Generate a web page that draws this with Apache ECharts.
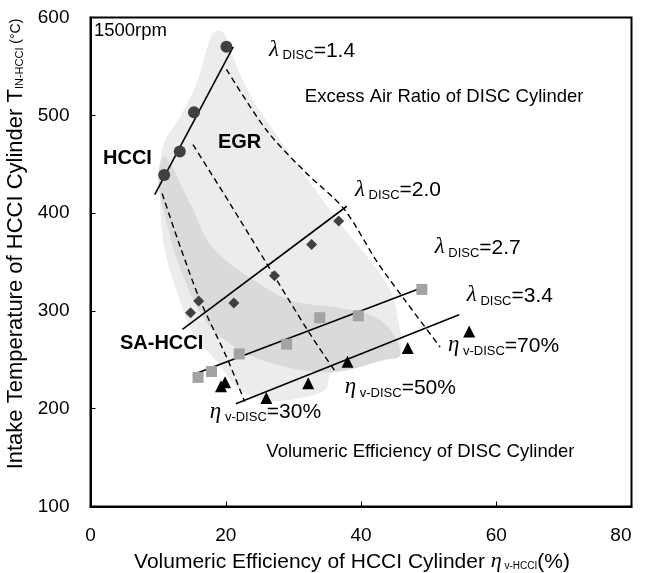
<!DOCTYPE html>
<html><head><meta charset="utf-8">
<script src="https://cdn.jsdelivr.net/npm/echarts@6/dist/echarts.min.js"></script>
<style>html,body{margin:0;padding:0;background:#fff}#c{width:646px;height:573px}</style>
</head><body><div id="c"></div>
<script>
// ---- axis ticks ----
const xTicks = [0, 20, 40, 60, 80];
const yTicks = [100, 200, 300, 400, 500, 600];

// ---- measured points (x: eta_v-HCCI %, y: T_IN-HCCI degC) ----
const hcciCircles = [[10.9, 439], [13.2, 463], [15.3, 503], [20.1, 570]];
const lambda20Diamonds = [[14.8, 298], [16.0, 310], [21.2, 308], [27.2, 336], [32.7, 368], [36.7, 392]];
const lambda27Squares = [[15.9, 232], [17.9, 238], [22.0, 256], [29.0, 266], [33.9, 293], [39.6, 295], [49.0, 322]];
const lambda34Triangles = [[19.3, 223], [19.9, 227], [26.0, 211], [32.2, 226], [38.0, 248], [46.9, 262], [56.0, 279]];

// ---- fitted iso-lambda lines ----
const fit14 = [[9.5, 419], [21.1, 570]];
const fit20 = [[13.6, 281], [37.9, 407]];
const fit27 = [[15.6, 236], [48.5, 322.5]];
const fit34 = [[21.5, 205], [54.5, 296]];

// ---- iso eta_v-DISC dashed curves ----
const eta30 = [[10.6, 420], [13.3, 365], [16.2, 311], [20.3, 250], [22.8, 207]];
const eta50 = [[15.15, 470], [20.6, 410], [26.0, 349], [32.4, 277], [36.4, 236]];
const eta70 = [[20.1, 547], [26.0, 485], [31.6, 443], [37.5, 404], [42.4, 350], [46.6, 310], [51.7, 263]];

// ---- shaded operating regions ----
const egrRegion = [[18.1, 584], [19.6, 585], [21.7, 549], [24.0, 516], [28.0, 475], [32.9, 427], [37.3, 386], [41.3, 352],
  [44.3, 321], [45.5, 291], [45.8, 255], [43.5, 250], [39.8, 248], [36.9, 245], [35.4, 235], [34.7, 219], [31.0, 211],
  [26.1, 208], [22.1, 219], [18.7, 248], [15.2, 277], [13.2, 311], [11.0, 362], [10.3, 413], [10.7, 468], [13.2, 498], [15.7, 533]];
const saRegion = [[10.7, 457], [12.0, 449], [13.7, 424], [15.2, 403], [17.2, 373], [19.6, 354], [24.0, 332], [29.5, 311],
  [36.9, 303], [41.3, 296], [44.3, 281], [45.8, 255], [43.5, 250], [36.9, 238], [32.9, 238], [27.0, 246], [22.1, 260],
  [17.2, 288], [13.2, 345], [11.0, 398], [10.0, 434]];

// ---- annotation texts and their anchors (data coords) ----
const annotTexts = ['1500rpm', 'lam14', 'Excess Air Ratio of DISC Cylinder', 'HCCI', 'EGR', 'lam20', 'lam27', 'lam34',
  'eta70', 'eta50', 'eta30', 'SA-HCCI', 'Volumeric Efficiency of DISC Cylinder'];
const annotAnchors = [[0.5, 586], [26.4, 567], [31.7, 519], [1.85, 456], [18.85, 472], [39.1, 424], [50.9, 365], [55.65, 316],
  [52.85, 265], [37.6, 222], [17.65, 197], [4.36, 267], [26.0, 156]];

const FONT = '"Liberation Sans", Arial, sans-serif';
const SERIF = '"Liberation Serif", "DejaVu Serif", serif';
const richBase = {
  g: { fontFamily: SERIF, fontStyle: 'italic', fontSize: 23, color: '#000', verticalAlign: 'bottom' },
  s: { fontFamily: FONT, fontSize: 13, color: '#000', verticalAlign: 'bottom', padding: [0, 0, -1, 0] },
  n: { fontFamily: FONT, fontSize: 21, color: '#000', verticalAlign: 'bottom' },
  p: { fontFamily: FONT, fontSize: 18.5, color: '#000' },
  b: { fontFamily: FONT, fontSize: 20, fontWeight: 'bold', color: '#000' }
};
function annotRich(t) {
  if (t.startsWith('lam')) return '{g|λ}{s| DISC}{n|=' + t.slice(3, 4) + '.' + t.slice(4) + '}';
  if (t.startsWith('eta')) return '{g|η}{s| v-DISC}{n|=' + t.slice(3) + '%}';
  if (t === 'HCCI' || t === 'EGR' || t === 'SA-HCCI') return '{b|' + t + '}';
  return '{p|' + t + '}';
}

function regionSeries(pts, color) {
  return {
    type: 'custom', coordinateSystem: 'cartesian2d', silent: true, z: 1,
    data: [[pts[0][0], pts[0][1]]],
    renderItem: function (params, api) {
      return { type: 'polygon', shape: { points: pts.map(p => api.coord(p)), smooth: 0.35 },
        style: { fill: color, stroke: null } };
    }
  };
}
function lineSeries(pts, dashed, smooth) {
  return { type: 'line', data: pts, symbol: 'none', smooth: smooth ? 0.3 : false, silent: true, z: 3,
    lineStyle: { color: '#000', width: dashed ? 1.4 : 1.6, type: dashed ? [6, 4] : 'solid' } };
}
function scatterSeries(pts, symbol, size, color) {
  return { type: 'scatter', data: pts, symbol: symbol, symbolSize: size, z: 5, silent: true,
    itemStyle: { color: color, opacity: 1 } };
}

const chart = echarts.init(document.getElementById('c'), null, { renderer: 'canvas' });
chart.setOption({
  animation: false,
  backgroundColor: '#fff',
  grid: { left: 90.5, right: 14.5, top: 17.5, bottom: 66.5, show: true, borderColor: '#000', borderWidth: 2,
    containLabel: false, outerBoundsMode: 'none' },
  xAxis: {
    type: 'value', min: xTicks[0], max: xTicks[xTicks.length - 1], interval: 20,
    splitLine: { show: false },
    axisLine: { lineStyle: { color: '#000', width: 2 } },
    axisTick: { inside: true, length: 5, lineStyle: { color: '#000', width: 1 } },
    axisLabel: { fontFamily: FONT, fontSize: 19, color: '#000', margin: 20, alignMaxLabel: 'right' },
    name: '{a|Volumeric Efficiency of HCCI Cylinder }{g|η}{s| v-HCCI}{a|(%)}',
    nameLocation: 'middle', nameGap: 33,
    nameTextStyle: {
      padding: [0, 18, 0, 0],
      rich: {
        a: { fontFamily: FONT, fontSize: 21, color: '#000', verticalAlign: 'bottom' },
        g: { fontFamily: SERIF, fontStyle: 'italic', fontSize: 22, color: '#000', verticalAlign: 'bottom' },
        s: { fontFamily: FONT, fontSize: 10, color: '#000', verticalAlign: 'bottom', padding: [0, 0, 1, 0] }
      }
    }
  },
  yAxis: {
    type: 'value', min: yTicks[0], max: yTicks[yTicks.length - 1], interval: 100,
    splitLine: { show: false },
    axisLine: { show: true, lineStyle: { color: '#000', width: 2 } },
    axisTick: { show: true, inside: true, length: 5, lineStyle: { color: '#000', width: 1 } },
    axisLabel: { fontFamily: FONT, fontSize: 19, color: '#000', margin: 21 },
    name: '{a|Intake Temperature of HCCI Cylinder T}{s|IN-HCCI}{c| (°C)}',
    nameLocation: 'middle', nameGap: 56,
    nameTextStyle: {
      padding: [0, 0, 0, 36],
      rich: {
        a: { fontFamily: FONT, fontSize: 22, color: '#000', verticalAlign: 'bottom' },
        s: { fontFamily: FONT, fontSize: 11, color: '#000', verticalAlign: 'bottom', padding: [0, 0, 1, 0] },
        c: { fontFamily: FONT, fontSize: 14, color: '#000', verticalAlign: 'bottom', padding: [0, 0, 4, 0] }
      }
    }
  },
  series: [
    regionSeries(egrRegion, '#ececec'),
    regionSeries(saRegion, '#dadada'),
    lineSeries(eta30, true, true),
    lineSeries(eta50, true, true),
    lineSeries(eta70, true, true),
    lineSeries(fit14, false, false),
    lineSeries(fit20, false, false),
    lineSeries(fit27, false, false),
    lineSeries(fit34, false, false),
    scatterSeries(hcciCircles, 'circle', 12, '#404040'),
    scatterSeries(lambda20Diamonds, 'diamond', 11, '#404040'),
    scatterSeries(lambda27Squares, 'rect', 11, '#a3a3a3'),
    scatterSeries(lambda34Triangles, 'triangle', 12, '#000'),
    {
      type: 'custom', coordinateSystem: 'cartesian2d', silent: true, z: 10, clip: false,
      data: annotAnchors,
      renderItem: function (params, api) {
        const pt = api.coord([api.value(0), api.value(1)]);
        return { type: 'text', x: pt[0], y: pt[1],
          style: { text: annotRich(annotTexts[params.dataIndex]), rich: richBase, align: 'left', verticalAlign: 'middle' } };
      }
    }
  ]
});
</script>
</body></html>
